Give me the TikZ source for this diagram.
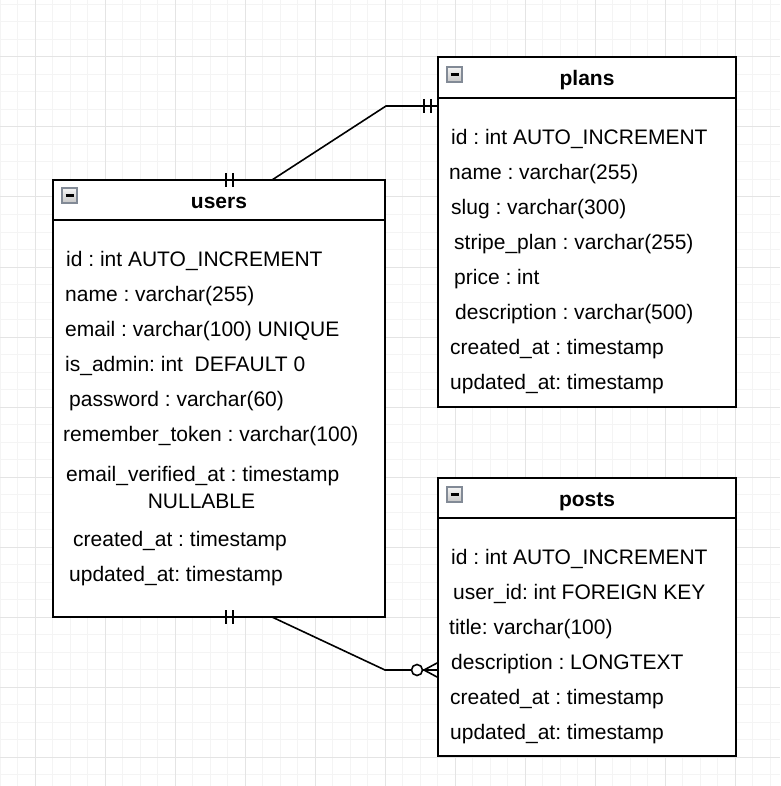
\documentclass[tikz,border=0pt]{standalone}
\usepackage{fontspec}
\setmainfont{Liberation Sans}
\frenchspacing
\usetikzlibrary{calc}
\definecolor{gridminor}{RGB}{244,244,244}
\definecolor{gridmajor}{RGB}{228,228,228}
\definecolor{iconborder}{RGB}{130,138,150}
\tikzset{
  tbl/.style={draw=black, line width=1.6pt, fill=white, rectangle, anchor=north west, inner sep=0pt, outer sep=0pt},
  fld/.style={anchor=base west, inner sep=0pt, font=\fontsize{21}{25}\selectfont},
  hdr/.style={anchor=base, inner sep=0pt, font=\fontsize{21}{25}\selectfont\bfseries},
  conn/.style={draw=black, line width=1.6pt},
  bar/.style={draw=black, line width=1.6pt},
  icon/.style={draw=iconborder, line width=1.2pt, top color=gray!8, bottom color=gray!45, rectangle, anchor=north west, inner sep=0pt, outer sep=0pt, minimum width=15pt, minimum height=15pt}
}
\begin{document}
\begin{tikzpicture}[x=1pt,y=-1pt]
\useasboundingbox (0,0) rectangle (780,786);
\fill[white] (0,0) rectangle (780,786);
% grid
\foreach \i in {0,...,44} {
  \draw[gridminor, line width=1pt] ({0.3+17.5*\i},0) -- ({0.3+17.5*\i},786);
  \draw[gridminor, line width=1pt] (0,{4.5+17.5*\i}) -- (780,{4.5+17.5*\i});
}
\foreach \i in {0,...,10} {
  \draw[gridmajor, line width=1pt] ({35.3+70*\i},0) -- ({35.3+70*\i},786);
  \draw[gridmajor, line width=1pt] (0,{57+70*\i}) -- (780,{57+70*\i});
}

% tables
\node[tbl, minimum width=332pt, minimum height=437pt] (users) at (53,180) {};
\node[tbl, minimum width=298pt, minimum height=350pt] (plans) at (438,57) {};
\node[tbl, minimum width=298pt, minimum height=278pt] (posts) at (438,478) {};
\draw[conn] (53,220) -- (385,220);
\draw[conn] (438,98) -- (736,98);
\draw[conn] (438,518) -- (736,518);

% icons
\node[icon] (uicon) at (62,188) {};
\node[icon] (picon) at (447,67) {};
\node[icon] (sicon) at (447,487) {};
\foreach \n in {uicon,picon,sicon} {
  \draw[black, line width=2.6pt] ($(\n.west)+(3.5,0)$) -- ($(\n.east)+(-3.5,0)$);
}

% headers
\node[hdr] (uh) at (219,208) {users};
\node[hdr] (ph) at (587,86) {plans};
\node[hdr] (sh) at (587,506) {posts};

% users fields
\node[fld] (u1) at (66,266.5) {id : int AUTO\_INCREMENT};
\node[fld] (u2) at (65,301.5) {name : varchar(255)};
\node[fld] (u3) at (65,336.5) {email : varchar(100) UNIQUE};
\node[fld] (u4) at (65,371.5) {is\_admin: int\ \ DEFAULT 0};
\node[fld] (u5) at (69,406.5) {password : varchar(60)};
\node[fld] (u6) at (63,441.5) {remember\_token : varchar(100)};
\node[fld] (u7) at (66,481) {email\_verified\_at : timestamp};
\node[fld, anchor=base] (u8) at (201.5,508) {NULLABLE};
\node[fld] (u9) at (73,546.5) {created\_at : timestamp};
\node[fld] (u10) at (69,581.5) {updated\_at: timestamp};

% plans fields
\node[fld] (p1) at (451,144.5) {id : int AUTO\_INCREMENT};
\node[fld] (p2) at (449,179.5) {name : varchar(255)};
\node[fld] (p3) at (451,214.5) {slug : varchar(300)};
\node[fld] (p4) at (454,249.5) {stripe\_plan : varchar(255)};
\node[fld] (p5) at (454,284.5) {price : int};
\node[fld] (p6) at (455,319.5) {description : varchar(500)};
\node[fld] (p7) at (450,354.5) {created\_at : timestamp};
\node[fld] (p8) at (450,389.5) {updated\_at: timestamp};

% posts fields
\node[fld] (s1) at (451,564.5) {id : int AUTO\_INCREMENT};
\node[fld] (s2) at (453,599.5) {user\_id: int FOREIGN KEY};
\node[fld] (s3) at (449,634.5) {title: varchar(100)};
\node[fld] (s4) at (451,669.5) {description : LONGTEXT};
\node[fld] (s5) at (450,704.5) {created\_at : timestamp};
\node[fld] (s6) at (450,739.5) {updated\_at: timestamp};

% connector users - plans
\coordinate (ut) at (216,180);
\coordinate (utb) at (272,180);
\coordinate (pk) at (386,106);
\coordinate (pe) at (438,106);
\draw[conn] (ut) -- (utb) -- (pk) -- (pe);
\draw[bar] (226,173) -- (226,187);
\draw[bar] (233,173) -- (233,187);
\draw[bar] (424,99) -- (424,113);
\draw[bar] (431,99) -- (431,113);

% connector users - posts
\coordinate (ub) at (216,617);
\coordinate (ubb) at (272,617);
\coordinate (sk) at (385,670);
\coordinate (se) at (438,670);
\coordinate (cf) at (424,670);
\draw[conn] (ub) -- (ubb) -- (sk) -- (se);
\draw[bar] (226,610) -- (226,624);
\draw[bar] (233,610) -- (233,624);
\draw[conn] (cf) -- (438,662.5);
\draw[conn] (cf) -- (438,677.5);
\node[draw=black, line width=1.6pt, fill=white, circle, minimum size=11pt, inner sep=0pt] (circ) at (417,670) {};
\end{tikzpicture}
\end{document}
